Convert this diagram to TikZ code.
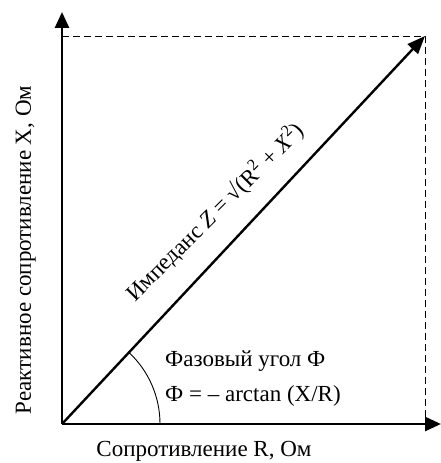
\documentclass[tikz,border=0pt]{standalone}
\usepackage{fontspec}
\setmainfont{Liberation Serif}
\usetikzlibrary{arrows.meta}
\begin{document}
\begin{tikzpicture}[x=1pt,y=1pt,
  axis/.style={line width=2.8pt,-{Triangle[length=16pt,width=14pt]}},
  vec/.style={line width=2.4pt,-{Triangle[length=18pt,width=14pt]}},
  guide/.style={line width=0.9pt,dash pattern=on 7pt off 4pt},
  lbl/.style={font=\fontsize{23}{27}\selectfont,inner sep=0pt}]
\useasboundingbox (0,0) rectangle (441,463);
\coordinate (O) at (62,39);
\coordinate (Ytop) at (62,451);
\coordinate (Xend) at (441,39);
\coordinate (C) at (425,427);
\coordinate (Ct) at (62,427);
\coordinate (Cb) at (425,39);
\draw[guide] (Ct) -- (C) -- (Cb);
\draw[axis] (O) -- (Ytop);
\draw[axis] (O) -- (Xend);
\draw[vec] (O) -- (C);
\draw[line width=0.9pt] ([shift={(0:98)}]O) arc[start angle=0,end angle=46.9,radius=98];
\node[lbl,anchor=base west] (phase) at (165,96) {Фазовый угол Ф};
\node[lbl,anchor=base west] (formula) at (165,61) {Ф = – arctan (X/R)};
\node[lbl,anchor=base] (xlab) at (204,6) {Сопротивление R, Ом};
\node[lbl,rotate=90,anchor=base] (ylab) at (31,213) {Реактивное сопротивление X, Ом};
\node[lbl,rotate=45] (zlab) at (215,251) {Импеданс \textit{Z} = √(R\textsuperscript{2} + \textit{X}\textsuperscript{2})};
\end{tikzpicture}
\end{document}
